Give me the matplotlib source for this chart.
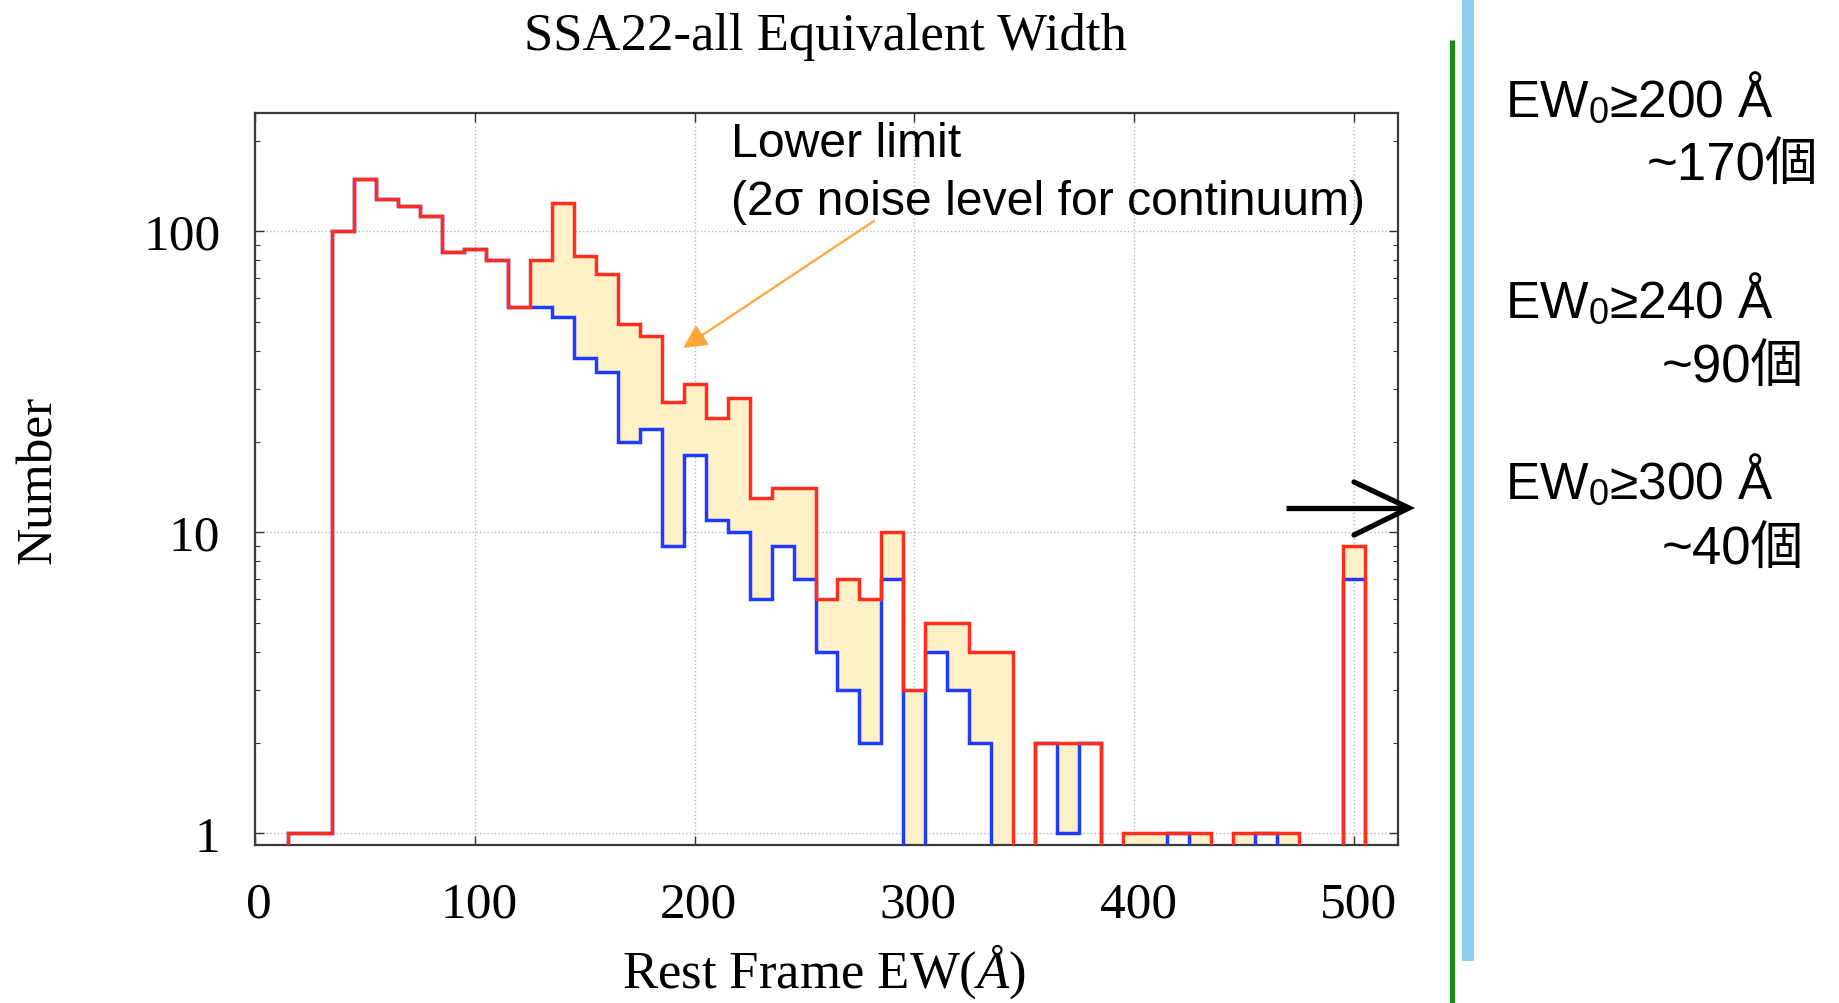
import numpy as np
import matplotlib
matplotlib.use('Agg')
import matplotlib.pyplot as plt
from matplotlib.lines import Line2D
from matplotlib.patches import Rectangle
from matplotlib.transforms import ScaledTranslation
from matplotlib.ticker import FixedLocator, LogLocator, NullFormatter, NullLocator

# ---------------- data ----------------
bin_edges = list(range(15, 515, 10))          # EW bin edges (Å)
red_all = [1, 1, 100, 149, 128, 121, 112, 85, 87, 80,
           56, 80, 124, 83, 72, 49, 45, 27, 31, 24,
           28, 13, 14, 14, 6, 7, 6, 10, 3, 5,
           5, 4, 4, 0, 2, 2, 2, 0, 1, 1,
           1, 1, 0, 1, 1, 1, 0, 0, 9]
blue_det = [1, 1, 100, 149, 128, 121, 112, 85, 87, 80,
            56, 56, 52, 38, 34, 20, 22, 9, 18, 11,
            10, 6, 9, 7, 4, 3, 2, 7, 0, 4,
            3, 2, 0, 0, 2, 1, 2, 0, 0, 0,
            1, 0, 0, 0, 1, 0, 0, 0, 7]
xticks = [0, 100, 200, 300, 400, 500]
yticks = [1, 10, 100]
ytick_labels = ['1', '10', '100']
title = "SSA22-all Equivalent Width"
xlabel = "Rest Frame EW($\\mathit{Å}$)"
ylabel = "Number"
note_lines = ["Lower limit", "(2σ noise level for continuum)"]
side_labels = ["$\\mathrm{EW}_{0}$≥200 Å", "$\\mathrm{EW}_{0}$≥240 Å", "$\\mathrm{EW}_{0}$≥300 Å"]
side_counts = ["~170個", "~90個", "~40個"]

# ---------------- style ----------------
W, H = 1839, 1004
red_color = '#FF2D1E'
blue_color = '#1E3CFF'
fill_color = '#FFF0C8'

plt.rcParams['font.family'] = ['Liberation Serif', 'DejaVu Serif']
plt.rcParams['mathtext.fontset'] = 'custom'
plt.rcParams['mathtext.rm'] = 'Liberation Sans'
plt.rcParams['mathtext.it'] = 'Liberation Serif:italic'
sans = ['Liberation Sans', 'Noto Sans CJK JP', 'DejaVu Sans']

fig = plt.figure(figsize=(W / 100, H / 100), dpi=100)
ax = fig.add_axes([255 / W, 1 - 846 / H, (1398 - 255) / W, (846 - 114) / H])
ax.set_yscale('log')
ax.set_xlim(0, 520)
ax.set_ylim(0.914, 247)

floor = 1e-3
edges = np.array(bin_edges, float)
red = np.array(red_all, float)
blue = np.array(blue_det, float)
red_d = np.where(red > 0, red, floor)
blue_d = np.where(blue > 0, blue, floor)
upper = np.where(red > blue, red_d, blue_d)

ax.stairs(upper, edges, baseline=blue_d, fill=True, color=fill_color, lw=0, zorder=1)
ax.stairs(blue_d, edges, baseline=floor, color=blue_color, lw=2.5, zorder=3)
ax.stairs(red_d, edges, baseline=floor, color=red_color, lw=2.5, zorder=4)

# axes styling
ax.xaxis.set_major_locator(FixedLocator(xticks))
ax.set_xticklabels([str(t) for t in xticks])
ax.xaxis.set_minor_locator(NullLocator())
ax.yaxis.set_major_locator(FixedLocator(yticks))
ax.set_yticklabels(ytick_labels)
ax.yaxis.set_minor_locator(LogLocator(base=10, subs=np.arange(2, 10)))
ax.yaxis.set_minor_formatter(NullFormatter())
ax.tick_params(which='both', direction='in', top=True, right=True, color='#333333')
ax.tick_params(which='major', length=6.5, width=1.0, labelsize=37)
ax.tick_params(axis='x', which='major', pad=26)
ax.tick_params(axis='y', which='major', pad=25)
ax.tick_params(which='minor', length=3.6, width=0.8)
shift = ScaledTranslation(4 / 100, 0, fig.dpi_scale_trans)
for lbl in ax.get_xticklabels():
    lbl.set_transform(lbl.get_transform() + shift)
for s in ax.spines.values():
    s.set_linewidth(1.6)
    s.set_color('#3a3a3a')
ax.set_axisbelow(True)
ax.grid(True, which='major', linestyle=':', color='#b5b5b5', lw=1.0)

# titles / labels
fig.text(826 / W, 1 - 50 / H, title, ha='center', va='baseline', fontsize=38)
fig.text(824 / W, 1 - 988 / H, xlabel, ha='center', va='baseline', fontsize=38)
fig.text(39 / W, 1 - 480 / H, ylabel, ha='center', va='center', rotation=90, fontsize=37)

# annotation
fig.text(731 / W, 1 - 157 / H, note_lines[0], ha='left', va='baseline', fontsize=34.7, family=sans)
fig.text(731 / W, 1 - 215 / H, note_lines[1], ha='left', va='baseline', fontsize=34.7, family=sans)
ax.annotate('', xy=(683 / W, 1 - 349 / H), xycoords='figure fraction',
            xytext=(874 / W, 1 - 222 / H), textcoords='figure fraction',
            arrowprops=dict(arrowstyle='-|>', color='#FFA53D', lw=1.6,
                            mutation_scale=36, shrinkA=0, shrinkB=0))

# black arrow
def fline(xs, ys, **kw):
    fig.add_artist(Line2D([x / W for x in xs], [1 - y / H for y in ys],
                          transform=fig.transFigure, **kw))

fline([1286, 1407], [509, 509], color='black', lw=3.8, solid_capstyle='butt')
fline([1354, 1409, 1354], [483, 509, 536], color='black', lw=3.8,
      solid_capstyle='round', solid_joinstyle='miter')

# side decorations
fline([1452, 1452], [41, 1004], color='#109010', lw=3.6, solid_capstyle='butt')
fig.add_artist(Rectangle((1462 / W, 1 - 962 / H), 12 / W, 962 / H,
                         transform=fig.transFigure, color='#8DCDEE', lw=0))

label_base = [117, 318, 499]
count_base = [181, 383, 565]
count_right = [1818, 1804, 1804]
for lab, cnt, yb, yc, xr in zip(side_labels, side_counts, label_base, count_base, count_right):
    fig.text(1505 / W, 1 - yb / H, lab, ha='left', va='baseline', fontsize=37, family=sans)
    fig.text(xr / W, 1 - yc / H, cnt, ha='right', va='baseline', fontsize=38, family=sans)

fig.savefig('out.png', dpi=100)
